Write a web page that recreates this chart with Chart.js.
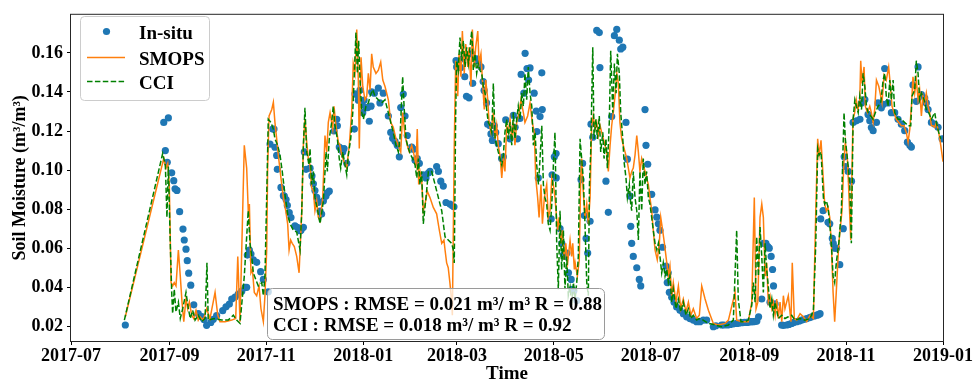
<!DOCTYPE html>
<html>
<head>
<meta charset="utf-8">
<script src="https://cdn.jsdelivr.net/npm/chart.js@4.4.1/dist/chart.umd.min.js"></script>
<style>
  html, body { margin: 0; padding: 0; background: #ffffff; }
  #box { width: 975px; height: 386px; }
</style>
</head>
<body>
<div id="box"><canvas id="sm" width="975" height="386"></canvas></div>
<script>
// Days are counted from this date; the x axis runs 2017-07-01 .. 2019-01-01.
const START_DATE = '2017-07-01';
const END_DATE = '2019-01-01';
const monthTicks = ['2017-07', '2017-09', '2017-11', '2018-01', '2018-03', '2018-05', '2018-07', '2018-09', '2018-11', '2019-01'];
const moistureTicks = [0.02, 0.04, 0.06, 0.08, 0.10, 0.12, 0.14, 0.16];

// In-situ soil moisture (m3/m3)
const insituDays = [34.2, 58.4, 59.4, 60.6, 61.3, 63.4, 64.7, 65.5, 66.7, 68.4, 70.5, 71.3, 72.4, 73.2, 74.1, 75.4, 77.3, 80.1, 82.3, 83.7,
  85.4, 88.0, 89.6, 91.7, 95.5, 97.6, 99.7, 101.2, 103.3, 105.3, 107.5, 109.6, 110.6, 111.0, 112.3, 113.3, 114.8, 116.9, 119.4, 121.1,
  124.2, 125.3, 127.0, 127.8, 128.4, 129.5, 129.9, 132.2, 133.7, 134.3, 135.4, 136.2, 137.4, 138.5, 141.0, 142.5, 144.2, 144.8, 146.3, 146.9,
  148.0, 150.5, 151.7, 152.6, 153.6, 154.7, 155.7, 156.8, 157.8, 158.9, 160.5, 161.4, 162.6, 165.6, 167.3, 167.7, 168.9, 169.8, 171.1, 171.9,
  173.6, 178.4, 178.8, 180.3, 180.9, 182.0, 183.1, 183.7, 184.5, 185.7, 186.8, 187.8, 188.9, 189.3, 191.0, 193.5, 194.5, 196.6, 199.8, 201.3,
  202.5, 204.0, 205.4, 206.7, 207.6, 209.2, 210.3, 211.7, 214.5, 215.5, 216.6, 218.0, 219.3, 221.8, 223.5, 225.0, 226.0, 230.2, 231.3, 232.8,
  234.4, 236.1, 238.6, 240.1, 241.1, 242.4, 242.8, 243.8, 245.4, 246.8, 247.9, 249.0, 250.6, 252.3, 252.9, 255.4, 256.4, 258.1, 259.5, 260.1,
  261.6, 262.3, 263.8, 264.4, 265.3, 266.5, 267.4, 269.0, 271.1, 272.2, 273.7, 276.4, 278.5, 279.6, 281.0, 282.6, 283.4, 285.1, 285.9, 287.1,
  288.1, 289.0, 291.6, 292.9, 293.3, 294.2, 295.3, 296.4, 296.7, 302.3, 302.9, 304.3, 305.4, 305.5, 307.9, 309.0, 310.0, 311.1, 312.2, 313.2,
  314.9, 315.4, 316.6, 318.5, 321.1, 322.1, 323.2, 324.3, 325.3, 326.8, 327.4, 328.5, 331.0, 332.6, 333.0, 336.8, 338.3, 340.4, 342.1, 343.6,
  345.2, 346.1, 347.4, 349.4, 350.3, 352.0, 352.4, 353.0, 354.0, 356.2, 357.8, 358.7, 361.4, 362.0, 363.1, 365.6, 367.7, 368.8, 369.8, 370.8,
  372.4, 374.6, 375.4, 376.0, 376.7, 378.2, 379.7, 381.3, 383.4, 385.5, 387.6, 389.7, 391.8, 393.9, 396.0, 398.1, 400.2, 404.4, 406.0, 409.6,
  411.0, 413.4, 415.0, 417.0, 419.2, 420.5, 422.3, 424.0, 425.5, 426.5, 427.6, 428.5, 429.7, 430.8, 431.8, 432.9, 434.9, 435.9, 437.5, 438.7,
  439.6, 440.1, 440.8, 441.7, 442.3, 443.3, 447.4, 448.5, 450.6, 452.0, 453.7, 455.0, 456.9, 458.5, 460.0, 461.5, 463.2, 465.0, 466.3, 468.0,
  469.5, 470.5, 471.6, 472.0, 473.5, 476.6, 477.7, 479.3, 479.9, 481.0, 482.0, 484.0, 486.2, 486.8, 487.6, 489.3, 491.4, 492.4, 494.5, 496.7,
  497.7, 499.8, 501.8, 502.9, 503.9, 505.0, 507.1, 508.1, 510.2, 511.3, 512.3, 514.4, 516.5, 518.6, 520.7, 522.8, 524.9, 526.6, 528.1, 529.1,
  530.1, 532.2, 533.3, 535.4, 537.5, 538.5, 539.6, 541.7, 543.8, 545.9, 548.4];
const insituSM = [0.0207, 0.1244, 0.110, 0.104, 0.1267, 0.0986, 0.0946, 0.0904, 0.0896, 0.0787, 0.0698, 0.0642, 0.0595, 0.0536, 0.0472, 0.0411, 0.031, 0.0265, 0.025, 0.0235,
  0.0205, 0.022, 0.0236, 0.0255, 0.028, 0.030, 0.0314, 0.034, 0.035, 0.0365, 0.038, 0.040, 0.040, 0.0565, 0.059, 0.057, 0.054, 0.0528, 0.048, 0.044,
  0.0377, 0.1133, 0.121, 0.121, 0.1117, 0.1075, 0.1004, 0.0911, 0.0869, 0.0867, 0.0849, 0.0819, 0.0782, 0.0757, 0.0715, 0.0707, 0.069, 0.0692, 0.0707, 0.1093,
  0.1004, 0.101, 0.097, 0.093, 0.0895, 0.086, 0.0835, 0.079, 0.0775, 0.0842, 0.0867, 0.0884, 0.0892, 0.120, 0.126, 0.1227, 0.1118, 0.111, 0.1093, 0.111,
  0.1035, 0.121, 0.139, 0.1386, 0.1358, 0.141, 0.1336, 0.1294, 0.1358, 0.132, 0.132, 0.125, 0.1327, 0.140, 0.1394, 0.142, 0.1344, 0.1394, 0.1277, 0.1193,
  0.1163, 0.1147, 0.1127, 0.1068, 0.132, 0.1389, 0.1277, 0.1177, 0.1118, 0.1107, 0.1051, 0.1059, 0.1034, 0.0976, 0.096, 0.0985, 0.0993, 0.1018, 0.0993, 0.0943,
  0.0918, 0.0834, 0.0826, 0.0817, 0.0812, 0.156, 0.1528, 0.1553, 0.1525, 0.157, 0.1478, 0.1378, 0.137, 0.1595, 0.1444, 0.157, 0.156, 0.1528, 0.1453, 0.1408,
  0.1344, 0.1235, 0.1227, 0.1185, 0.1152, 0.1227, 0.1193, 0.1135, 0.1059, 0.1068, 0.1257, 0.116, 0.128, 0.1219, 0.116, 0.1264, 0.149, 0.1394, 0.1598, 0.152,
  0.1461, 0.1523, 0.1394, 0.1302, 0.1197, 0.096, 0.1274, 0.1498, 0.131, 0.075, 0.0976, 0.1068, 0.1085, 0.096, 0.070, 0.0625, 0.0566, 0.0558, 0.0575, 0.0474,
  0.044, 0.039, 0.0382, 0.0332, 0.0951, 0.1034, 0.0767, 0.065, 0.0575, 0.0738, 0.1235, 0.1168, 0.1715, 0.1704, 0.1525, 0.0943, 0.0784, 0.1274, 0.1688, 0.172,
  0.1665, 0.162, 0.1629, 0.1244, 0.1056, 0.0867, 0.0712, 0.0625, 0.0558, 0.050, 0.044, 0.0407, 0.131, 0.1127, 0.103, 0.0876, 0.0796, 0.0759, 0.0725, 0.0692,
  0.0605, 0.0508, 0.0424, 0.0474, 0.0374, 0.0349, 0.0324, 0.0299, 0.0282, 0.0265, 0.0249, 0.024, 0.0232, 0.0224, 0.0224, 0.0232, 0.0232, 0.0198, 0.0203, 0.0207,
  0.0207, 0.0207, 0.021, 0.0213, 0.0215, 0.0217, 0.0219, 0.022, 0.022, 0.0222, 0.0224, 0.0224, 0.0224, 0.0226, 0.0227, 0.0249, 0.034, 0.0625, 0.0625, 0.0608,
  0.060, 0.0324, 0.0558, 0.0491, 0.0407, 0.0315, 0.0207, 0.0205, 0.0207, 0.021, 0.0215, 0.022, 0.0224, 0.0228, 0.0232, 0.0236, 0.024, 0.0245, 0.0249, 0.0253,
  0.0257, 0.026, 0.0265, 0.075, 0.0792, 0.0733, 0.0725, 0.065, 0.0625, 0.060, 0.060, 0.0516, 0.070, 0.1068, 0.1018, 0.0993, 0.0943, 0.1244, 0.1252, 0.126,
  0.1344, 0.1361, 0.1285, 0.1252, 0.1218, 0.1202, 0.1244, 0.1344, 0.1319, 0.1336, 0.152, 0.1344, 0.1294, 0.1294, 0.126, 0.1235, 0.1202, 0.1143, 0.1127, 0.1118,
  0.1436, 0.1352, 0.1528, 0.1386, 0.1369, 0.1344, 0.131, 0.1244, 0.1235, 0.1219, 0.116];

// SMOPS soil moisture (m3/m3)
const smopsDays = [34.2, 58.4, 59.8, 60.9, 61.9, 63.0, 64.0, 65.0, 66.1, 67.6, 68.8, 69.9, 71.0, 72.4, 73.5, 74.5, 76.0, 77.3, 78.7, 80.1,
  81.2, 83.3, 85.4, 87.5, 90.7, 92.4, 93.8, 97.0, 101.2, 103.7, 105.0, 106.4, 109.1, 110.6, 111.6, 112.3, 113.3, 114.2, 115.4, 116.9,
  118.4, 119.6, 121.1, 122.1, 123.2, 123.8, 124.7, 126.4, 127.4, 128.4, 129.5, 130.5, 132.2, 133.7, 135.2, 136.4, 137.3, 138.3, 139.3, 140.6,
  142.1, 143.6, 144.4, 145.3, 146.3, 147.3, 148.4, 149.4, 150.5, 151.5, 152.6, 153.6, 154.7, 155.7, 156.8, 158.5, 159.9, 161.0, 162.0, 163.1,
  164.8, 165.6, 166.8, 168.3, 169.4, 170.4, 171.9, 173.6, 175.2, 176.7, 177.7, 178.8, 179.9, 180.9, 181.5, 182.6, 183.7, 185.1, 186.2, 187.2,
  188.3, 189.3, 190.3, 192.0, 193.5, 195.0, 196.3, 197.7, 199.8, 201.3, 202.9, 204.6, 206.1, 207.6, 208.8, 210.3, 211.7, 213.0, 214.5, 216.0,
  217.2, 218.0, 218.9, 219.7, 220.8, 221.8, 222.9, 224.3, 226.0, 228.1, 230.2, 231.9, 233.4, 234.8, 235.5, 236.5, 237.5, 238.6, 239.7, 240.1,
  241.3, 242.2, 243.5, 244.3, 245.5, 246.4, 247.6, 248.5, 249.8, 250.6, 251.8, 252.7, 253.9, 254.8, 256.1, 256.9, 258.1, 259.0, 260.2, 261.1,
  262.4, 263.2, 264.4, 265.9, 267.0, 268.0, 269.0, 270.1, 271.2, 272.2, 273.2, 274.3, 275.3, 276.4, 277.5, 278.5, 279.5, 280.6, 282.1, 283.3,
  284.8, 285.8, 287.5, 289.0, 290.4, 291.7, 292.6, 293.8, 294.7, 295.9, 296.8, 298.0, 299.5, 300.5, 301.6, 302.7, 303.7, 304.7, 306.4, 307.3,
  308.5, 309.3, 310.6, 311.5, 312.7, 314.2, 315.2, 315.9, 316.9, 317.4, 318.8, 320.0, 320.9, 321.5, 322.5, 323.6, 324.7, 325.7, 326.8, 327.8,
  328.8, 329.9, 331.0, 332.0, 333.1, 334.1, 335.2, 336.2, 337.3, 338.3, 339.4, 340.4, 341.4, 342.5, 343.6, 344.6, 345.6, 346.7, 347.7, 348.8,
  349.9, 350.9, 351.9, 353.0, 354.0, 355.1, 356.2, 357.2, 358.2, 359.3, 360.3, 361.4, 362.4, 363.5, 364.5, 365.6, 366.6, 367.7, 369.1, 370.4,
  371.3, 372.5, 373.6, 375.1, 376.1, 377.1, 378.2, 379.2, 380.9, 382.4, 383.9, 385.5, 387.2, 388.7, 390.2, 391.8, 393.9, 395.6, 397.1, 399.2,
  401.3, 404.4, 407.6, 411.8, 413.9, 418.1, 419.1, 422.3, 426.4, 428.6, 430.2, 431.3, 432.4, 433.8, 434.9, 435.9, 437.0, 438.0, 439.0, 440.1,
  441.2, 442.2, 443.3, 444.3, 445.3, 446.4, 447.5, 448.5, 449.5, 451.6, 453.3, 454.1, 455.4, 456.9, 459.0, 461.1, 463.2, 465.3, 467.4, 468.9,
  470.1, 471.0, 472.2, 473.7, 474.5, 475.6, 476.6, 477.7, 478.7, 479.8, 480.8, 481.8, 483.4, 484.6, 485.4, 486.7, 487.5, 488.8, 489.6, 490.9,
  492.3, 493.4, 494.4, 495.5, 496.6, 497.2, 498.0, 499.3, 500.1, 501.4, 502.9, 503.9, 505.0, 506.0, 507.1, 508.6, 509.8, 510.6, 511.9, 513.3,
  514.8, 516.1, 516.9, 518.2, 519.6, 521.1, 522.8, 524.5, 525.9, 527.0, 528.1, 529.1, 530.1, 531.2, 532.2, 533.3, 534.3, 535.4, 536.4, 537.5,
  538.5, 539.6, 540.6, 541.7, 542.7, 543.8, 544.8, 546.3, 547.6, 549.0];
const smopsSM = [0.0249, 0.106, 0.101, 0.1034, 0.0926, 0.0424, 0.0407, 0.0424, 0.0407, 0.0591, 0.0457, 0.0324, 0.0224, 0.034, 0.029, 0.0324, 0.0257, 0.024, 0.0282, 0.0232,
  0.0249, 0.0232, 0.029, 0.024, 0.0374, 0.0257, 0.0224, 0.0224, 0.0232, 0.024, 0.0558, 0.0224, 0.1127, 0.101, 0.0792, 0.0826, 0.0474, 0.0491, 0.0374, 0.0357,
  0.0407, 0.029, 0.0224, 0.0357, 0.059, 0.101, 0.1277, 0.131, 0.1347, 0.1244, 0.116, 0.1077, 0.0959, 0.0859, 0.0792, 0.0725, 0.0591, 0.0642, 0.0625, 0.0608,
  0.0558, 0.0474, 0.0625, 0.0792, 0.1127, 0.126, 0.1143, 0.1059, 0.1026, 0.0909, 0.0892, 0.0792, 0.0842, 0.0758, 0.074, 0.0859, 0.1177, 0.1093, 0.1244, 0.1294,
  0.121, 0.1327, 0.1227, 0.1143, 0.1127, 0.1077, 0.1043, 0.101, 0.1127, 0.1294, 0.1545, 0.1495, 0.172, 0.1461, 0.111, 0.1578, 0.1428, 0.136, 0.1378, 0.1495,
  0.1411, 0.1595, 0.1528, 0.1495, 0.1511, 0.1553, 0.1461, 0.1428, 0.136, 0.1244, 0.1219, 0.116, 0.1127, 0.1093, 0.1294, 0.1177, 0.1127, 0.1093, 0.1127, 0.1077,
  0.1026, 0.121, 0.0926, 0.0993, 0.0943, 0.0792, 0.0826, 0.0892, 0.0859, 0.0809, 0.0776, 0.0692, 0.0625, 0.0642, 0.0591, 0.0525, 0.050, 0.042, 0.0324, 0.0257,
  0.1127, 0.156, 0.1378, 0.1595, 0.1478, 0.1712, 0.1495, 0.1645, 0.1528, 0.1629, 0.1428, 0.172, 0.1528, 0.1629, 0.1712, 0.1545, 0.1595, 0.1461, 0.131, 0.1461,
  0.136, 0.1244, 0.1193, 0.1294, 0.116, 0.1227, 0.1127, 0.1077, 0.096, 0.1059, 0.0993, 0.1227, 0.1193, 0.126, 0.116, 0.1244, 0.1127, 0.1244, 0.1294, 0.136,
  0.1294, 0.1244, 0.1277, 0.1344, 0.1244, 0.1193, 0.096, 0.0859, 0.0758, 0.0926, 0.0725, 0.0859, 0.0926, 0.0758, 0.0792, 0.096, 0.0926, 0.0859, 0.0692, 0.0758,
  0.0625, 0.0692, 0.0541, 0.0625, 0.0525, 0.064, 0.0558, 0.0625, 0.0491, 0.0525, 0.0457, 0.0541, 0.096, 0.1059, 0.0892, 0.0758, 0.0826, 0.0725, 0.0859, 0.1227,
  0.1277, 0.121, 0.1244, 0.1177, 0.1227, 0.1193, 0.116, 0.1127, 0.1093, 0.0993, 0.1127, 0.1227, 0.1294, 0.1378, 0.1495, 0.1444, 0.1244, 0.116, 0.1127, 0.1093,
  0.1059, 0.101, 0.096, 0.0993, 0.101, 0.1077, 0.1177, 0.1093, 0.0993, 0.1059, 0.1026, 0.0993, 0.096, 0.0926, 0.0859, 0.0792, 0.0692, 0.0591, 0.0541, 0.0625,
  0.0758, 0.0692, 0.0625, 0.0525, 0.0457, 0.0508, 0.0357, 0.0424, 0.0324, 0.0407, 0.029, 0.034, 0.0274, 0.0324, 0.0257, 0.029, 0.024, 0.0257, 0.0407, 0.034,
  0.0282, 0.0215, 0.0207, 0.0215, 0.0232, 0.0374, 0.0232, 0.0224, 0.0224, 0.0324, 0.0859, 0.029, 0.0324, 0.0758, 0.0826, 0.0758, 0.0457, 0.0525, 0.0324, 0.0357,
  0.029, 0.0324, 0.0257, 0.034, 0.024, 0.0324, 0.0224, 0.0357, 0.029, 0.0357, 0.0224, 0.0525, 0.024, 0.0232, 0.0265, 0.0249, 0.0224, 0.0257, 0.024, 0.0792,
  0.116, 0.1077, 0.1152, 0.0943, 0.0826, 0.0792, 0.0809, 0.0758, 0.0625, 0.0374, 0.0224, 0.0374, 0.0625, 0.0725, 0.0792, 0.1059, 0.1143, 0.1059, 0.0909, 0.0642,
  0.126, 0.1294, 0.136, 0.131, 0.136, 0.156, 0.1444, 0.1528, 0.1327, 0.1294, 0.1327, 0.1294, 0.1244, 0.131, 0.1461, 0.1428, 0.1378, 0.1344, 0.1486, 0.1461,
  0.1528, 0.1411, 0.1327, 0.1294, 0.126, 0.1244, 0.1227, 0.1227, 0.1193, 0.1143, 0.121, 0.1327, 0.1478, 0.1394, 0.1461, 0.136, 0.1411, 0.1277, 0.1378, 0.1344,
  0.1394, 0.1327, 0.1294, 0.1227, 0.1227, 0.1219, 0.1244, 0.1193, 0.1127, 0.1043];

// ESA CCI soil moisture (m3/m3)
const cciDays = [33.6, 57.7, 59.4, 60.4, 61.3, 62.5, 63.4, 64.0, 65.0, 66.1, 67.6, 68.8, 70.3, 72.4, 73.9, 75.1, 76.6, 78.1, 80.1, 82.3,
  84.4, 85.6, 86.4, 90.0, 94.9, 99.0, 102.2, 104.3, 106.4, 109.1, 110.6, 111.6, 112.7, 113.8, 114.8, 116.3, 117.9, 120.1, 121.1, 122.1,
  123.2, 124.2, 125.9, 127.4, 128.4, 130.1, 131.6, 133.0, 134.7, 136.4, 137.9, 140.0, 142.1, 144.2, 145.3, 146.3, 147.3, 148.4, 149.8, 150.5,
  151.5, 152.6, 153.6, 155.3, 156.8, 158.9, 160.6, 161.4, 162.6, 164.1, 165.1, 166.2, 167.7, 168.9, 169.8, 171.1, 172.5, 173.6, 174.6, 176.1,
  177.4, 178.2, 179.4, 180.3, 181.1, 182.0, 183.1, 184.1, 185.7, 187.2, 188.3, 190.0, 191.4, 193.5, 195.6, 197.7, 199.8, 201.3, 202.9, 204.6,
  206.1, 207.1, 208.8, 209.7, 210.9, 212.4, 213.9, 215.1, 216.6, 217.7, 218.7, 219.7, 220.8, 221.8, 223.5, 225.0, 227.1, 229.2, 231.3, 233.4,
  235.5, 237.5, 239.7, 240.7, 241.3, 242.2, 242.8, 243.8, 244.9, 246.0, 247.0, 248.1, 249.1, 250.2, 251.2, 252.3, 253.3, 254.4, 255.4, 256.4,
  257.5, 258.6, 259.6, 260.7, 261.7, 262.7, 263.8, 264.9, 265.9, 267.0, 268.0, 269.0, 270.1, 271.2, 272.2, 273.2, 274.3, 275.3, 276.4, 277.5,
  278.5, 279.5, 280.6, 281.6, 282.7, 283.8, 284.8, 285.8, 286.9, 287.9, 289.0, 290.1, 291.1, 292.2, 293.2, 294.3, 295.3, 296.4, 297.4, 298.4,
  299.5, 300.5, 301.6, 302.7, 303.7, 304.7, 305.8, 306.8, 307.9, 308.9, 310.0, 311.0, 312.1, 313.1, 314.2, 315.2, 316.3, 317.4, 318.4, 319.4,
  320.5, 321.5, 322.5, 323.6, 324.7, 325.7, 326.4, 327.2, 328.5, 329.3, 330.5, 331.4, 332.6, 333.5, 334.8, 335.6, 336.8, 337.7, 338.9, 339.8,
  341.1, 342.1, 343.2, 344.0, 345.2, 346.1, 347.4, 348.2, 349.4, 350.3, 351.5, 352.4, 353.0, 354.0, 355.1, 356.2, 357.2, 358.2, 359.3, 360.3,
  361.4, 362.4, 363.5, 364.5, 365.6, 366.6, 367.7, 368.8, 369.8, 370.8, 371.9, 372.9, 374.0, 375.1, 376.1, 377.1, 378.2, 379.2, 380.9, 382.4,
  383.9, 385.5, 387.2, 388.7, 390.2, 391.8, 393.9, 395.6, 397.1, 401.3, 405.5, 409.7, 413.9, 417.0, 419.1, 420.1, 421.8, 424.4, 426.4, 428.6,
  429.6, 430.7, 431.7, 432.8, 433.8, 434.9, 435.9, 437.0, 438.0, 439.0, 440.1, 441.2, 442.2, 443.3, 445.3, 447.5, 449.5, 451.6, 453.7, 455.8,
  459.0, 462.1, 465.3, 467.4, 468.9, 470.1, 471.0, 472.2, 473.7, 474.5, 475.6, 476.6, 477.7, 478.7, 479.8, 480.8, 481.8, 483.4, 485.0, 486.7,
  487.5, 488.8, 490.3, 491.3, 492.4, 493.5, 494.5, 495.6, 496.6, 497.7, 498.7, 499.8, 500.8, 501.9, 503.5, 505.0, 506.4, 508.1, 509.8, 511.3,
  512.3, 513.3, 514.4, 515.5, 516.5, 517.6, 518.6, 520.7, 522.8, 524.9, 527.0, 528.7, 529.5, 531.2, 532.2, 533.3, 534.3, 535.4, 537.1, 538.5,
  540.0, 541.7, 542.7, 543.8, 544.8, 546.3, 547.6];
const cciSM = [0.0232, 0.1085, 0.1026, 0.0758, 0.1018, 0.0625, 0.0374, 0.0265, 0.039, 0.0274, 0.0324, 0.024, 0.029, 0.0374, 0.029, 0.024, 0.0282, 0.0232, 0.0257, 0.0224,
  0.024, 0.0525, 0.0232, 0.024, 0.0232, 0.0232, 0.0257, 0.0232, 0.0215, 0.0457, 0.0658, 0.0792, 0.0625, 0.0558, 0.0474, 0.044, 0.0407, 0.0424, 0.0357, 0.0457,
  0.0859, 0.126, 0.1244, 0.121, 0.116, 0.1127, 0.1077, 0.0993, 0.0876, 0.0776, 0.0725, 0.0692, 0.0683, 0.0591, 0.0792, 0.1127, 0.1319, 0.1093, 0.1026, 0.111,
  0.0926, 0.0993, 0.0859, 0.0792, 0.0725, 0.0842, 0.1093, 0.0993, 0.116, 0.1244, 0.1327, 0.1227, 0.116, 0.1059, 0.101, 0.1093, 0.1026, 0.0976, 0.1077, 0.116,
  0.1294, 0.1461, 0.1704, 0.1495, 0.1662, 0.1461, 0.1294, 0.126, 0.1327, 0.1344, 0.1378, 0.1411, 0.1378, 0.136, 0.1344, 0.136, 0.1294, 0.1244, 0.1193, 0.1127,
  0.1093, 0.116, 0.1478, 0.1327, 0.116, 0.111, 0.1077, 0.1059, 0.1026, 0.096, 0.1059, 0.0926, 0.0993, 0.0725, 0.0859, 0.0993, 0.0993, 0.0926, 0.0859, 0.0792,
  0.0658, 0.0642, 0.0625, 0.0591, 0.0525, 0.1294, 0.156, 0.1511, 0.1679, 0.156, 0.1662, 0.1528, 0.1629, 0.1545, 0.1629, 0.1712, 0.1511, 0.1595, 0.1495, 0.1545,
  0.1511, 0.1495, 0.1428, 0.1394, 0.131, 0.1244, 0.1227, 0.1193, 0.1444, 0.116, 0.1127, 0.1093, 0.1059, 0.1026, 0.1077, 0.1193, 0.126, 0.116, 0.1244, 0.1127,
  0.1294, 0.116, 0.126, 0.1327, 0.126, 0.1394, 0.1327, 0.1495, 0.136, 0.1528, 0.1394, 0.1327, 0.1127, 0.1193, 0.1026, 0.0926, 0.1059, 0.1227, 0.0926, 0.0859,
  0.0826, 0.0725, 0.0692, 0.0826, 0.1026, 0.1193, 0.0625, 0.039, 0.0792, 0.0491, 0.0692, 0.039, 0.0558, 0.0357, 0.040, 0.0307, 0.0424, 0.034, 0.0424, 0.0558,
  0.116, 0.1059, 0.096, 0.0725, 0.0424, 0.0357, 0.0926, 0.1093, 0.1629, 0.116, 0.126, 0.116, 0.1277, 0.1093, 0.1193, 0.1059, 0.116, 0.101, 0.1244, 0.1611,
  0.1294, 0.1545, 0.1394, 0.1595, 0.1495, 0.1294, 0.116, 0.1043, 0.096, 0.0859, 0.0926, 0.0826, 0.0792, 0.0993, 0.0859, 0.0792, 0.0642, 0.0993, 0.0792, 0.1059,
  0.0926, 0.0993, 0.0859, 0.0826, 0.0758, 0.0692, 0.0625, 0.0591, 0.0625, 0.0558, 0.0474, 0.0525, 0.0457, 0.0491, 0.0424, 0.0457, 0.0324, 0.039, 0.029, 0.034,
  0.0274, 0.0324, 0.0257, 0.029, 0.024, 0.0257, 0.0232, 0.024, 0.0237, 0.0215, 0.0207, 0.0198, 0.0207, 0.0232, 0.0692, 0.034, 0.0224, 0.0224, 0.0232, 0.0307,
  0.0424, 0.0324, 0.0658, 0.0457, 0.0708, 0.0558, 0.0374, 0.0625, 0.0491, 0.0407, 0.029, 0.034, 0.0257, 0.0324, 0.024, 0.0257, 0.024, 0.0249, 0.0257, 0.0232,
  0.024, 0.0232, 0.024, 0.0282, 0.0625, 0.111, 0.1077, 0.1093, 0.0859, 0.0826, 0.0842, 0.0809, 0.0725, 0.0625, 0.0457, 0.0424, 0.0525, 0.0625, 0.0792, 0.1294,
  0.116, 0.1059, 0.0926, 0.0625, 0.126, 0.136, 0.1327, 0.1294, 0.1378, 0.131, 0.1495, 0.1428, 0.1327, 0.1294, 0.1277, 0.126, 0.1294, 0.1327, 0.1344, 0.1461,
  0.1495, 0.1378, 0.1327, 0.1461, 0.136, 0.1461, 0.1294, 0.126, 0.126, 0.1244, 0.1227, 0.1227, 0.1378, 0.1411, 0.156, 0.1495, 0.136, 0.1394, 0.136, 0.131,
  0.1294, 0.126, 0.1277, 0.1294, 0.1244, 0.1193, 0.116];

const statsLines = [
  'SMOPS : RMSE = 0.021 m³/ m³ R = 0.88',
  'CCI : RMSE = 0.018 m³/ m³ R = 0.92'
];

const SERIF = "'Liberation Serif', 'Times New Roman', 'DejaVu Serif', serif";
const BLUE = '#1f77b4';
const ORANGE = '#ff7f0e';
const GREEN = '#008000';
const DASH = [5.5, 2.4];

const dayMs = 86400000;
function dayOf(iso) {
  const p = iso.split('-').map(Number);
  const t0 = START_DATE.split('-').map(Number);
  return (Date.UTC(p[0], p[1] - 1, p[2] || 1) - Date.UTC(t0[0], t0[1] - 1, t0[2])) / dayMs;
}
const tickDays = monthTicks.map(m => dayOf(m));
const pairs = (xs, ys) => xs.map((x, i) => ({ x: x, y: ys[i] }));

// Spines on all four sides of the plotting area
const framePlugin = {
  id: 'frame',
  afterDatasetsDraw(chart) {
    const { ctx, chartArea: a } = chart;
    ctx.save();
    ctx.strokeStyle = '#262626';
    ctx.lineWidth = 1;
    ctx.strokeRect(a.left - 0.5, a.top - 0.5, a.right - a.left + 1, a.bottom - a.top + 1);
    ctx.restore();
  }
};

function roundBox(ctx, x, y, w, h, r, fill, stroke) {
  ctx.beginPath();
  ctx.moveTo(x + r, y);
  ctx.arcTo(x + w, y, x + w, y + h, r);
  ctx.arcTo(x + w, y + h, x, y + h, r);
  ctx.arcTo(x, y + h, x, y, r);
  ctx.arcTo(x, y, x + w, y, r);
  ctx.closePath();
  ctx.fillStyle = fill;
  ctx.fill();
  ctx.strokeStyle = stroke;
  ctx.lineWidth = 1;
  ctx.stroke();
}

// Legend box (upper left) and the statistics text box (bottom centre)
const overlayPlugin = {
  id: 'overlay',
  afterDraw(chart) {
    const ctx = chart.ctx;
    const ds = chart.data.datasets;
    ctx.save();

    // legend
    roundBox(ctx, 80.5, 16.5, 129, 84, 4, 'rgba(255,255,255,0.8)', '#cccccc');
    ctx.font = 'bold 19px ' + SERIF;
    ctx.fillStyle = '#000';
    ctx.textBaseline = 'alphabetic';
    ctx.textAlign = 'left';
    // In-situ marker
    ctx.beginPath();
    ctx.arc(106.5, 31.5, 3.6, 0, Math.PI * 2);
    ctx.fillStyle = BLUE;
    ctx.fill();
    ctx.fillStyle = '#000';
    ctx.fillText(ds[0].label, 139, 38.5);
    // SMOPS line
    ctx.beginPath();
    ctx.moveTo(87, 57.5); ctx.lineTo(125, 57.5);
    ctx.strokeStyle = ORANGE; ctx.lineWidth = 1.5; ctx.setLineDash([]);
    ctx.stroke();
    ctx.fillText(ds[1].label, 139, 64.5);
    // CCI line
    ctx.beginPath();
    ctx.moveTo(87, 81.5); ctx.lineTo(125, 81.5);
    ctx.strokeStyle = GREEN; ctx.setLineDash(DASH);
    ctx.stroke();
    ctx.setLineDash([]);
    ctx.fillText(ds[2].label, 139, 89);

    // statistics box
    roundBox(ctx, 267.5, 288.5, 337, 51, 5, 'rgba(255,255,255,0.75)', '#9a9a9a');
    ctx.fillStyle = '#000';
    ctx.font = 'bold 19px ' + SERIF;
    ctx.fillText(statsLines[0], 273, 309.5);
    ctx.fillText(statsLines[1], 273, 331);
    ctx.restore();
  }
};

const tickFont = { family: SERIF, size: 18, weight: 'bold' };

new Chart(document.getElementById('sm'), {
  type: 'scatter',
  data: {
    datasets: [
      {
        label: 'In-situ',
        data: pairs(insituDays, insituSM),
        showLine: false,
        pointRadius: 3.6,
        pointHoverRadius: 3.6,
        pointBackgroundColor: BLUE,
        pointBorderWidth: 0,
        order: 3
      },
      {
        label: 'SMOPS',
        data: pairs(smopsDays, smopsSM),
        showLine: true,
        borderColor: ORANGE,
        borderWidth: 1.5,
        pointRadius: 0,
        tension: 0,
        order: 2
      },
      {
        label: 'CCI',
        data: pairs(cciDays, cciSM),
        showLine: true,
        borderColor: GREEN,
        borderWidth: 1.5,
        borderDash: DASH,
        pointRadius: 0,
        tension: 0,
        order: 1
      }
    ]
  },
  options: {
    responsive: false,
    animation: false,
    devicePixelRatio: 1,
    layout: { padding: { left: 0, right: 32, top: 8, bottom: 0 } },
    plugins: { legend: { display: false }, tooltip: { enabled: false } },
    scales: {
      x: {
        type: 'linear',
        min: 0,
        max: dayOf(END_DATE),
        afterBuildTicks: s => { s.ticks = tickDays.map(v => ({ value: v })); },
        afterFit: s => { s.height = 45; },
        ticks: {
          autoSkip: false,
          maxRotation: 0,
          padding: 1,
          color: '#000',
          font: tickFont,
          callback: v => monthTicks[tickDays.indexOf(v)] || ''
        },
        grid: { drawOnChartArea: false, drawTicks: true, tickLength: 4, tickColor: '#000' },
        border: { display: false },
        title: { display: true, text: 'Time', color: '#000', font: { family: SERIF, size: 19, weight: 'bold' }, padding: { top: 0, bottom: 1 } }
      },
      y: {
        min: 0.0125,
        max: 0.1795,
        afterBuildTicks: s => { s.ticks = moistureTicks.map(v => ({ value: v })); },
        afterFit: s => { s.width = 71; },
        ticks: {
          padding: 4,
          color: '#000',
          font: tickFont,
          callback: v => v.toFixed(2)
        },
        grid: { drawOnChartArea: false, drawTicks: true, tickLength: 4, tickColor: '#000' },
        border: { display: false },
        title: { display: true, text: 'Soil Moisture (m³/m³)', color: '#000', font: { family: SERIF, size: 18, weight: 'bold' }, padding: { top: 10, bottom: 0 } }
      }
    }
  },
  plugins: [framePlugin, overlayPlugin]
});
</script>
</body>
</html>
